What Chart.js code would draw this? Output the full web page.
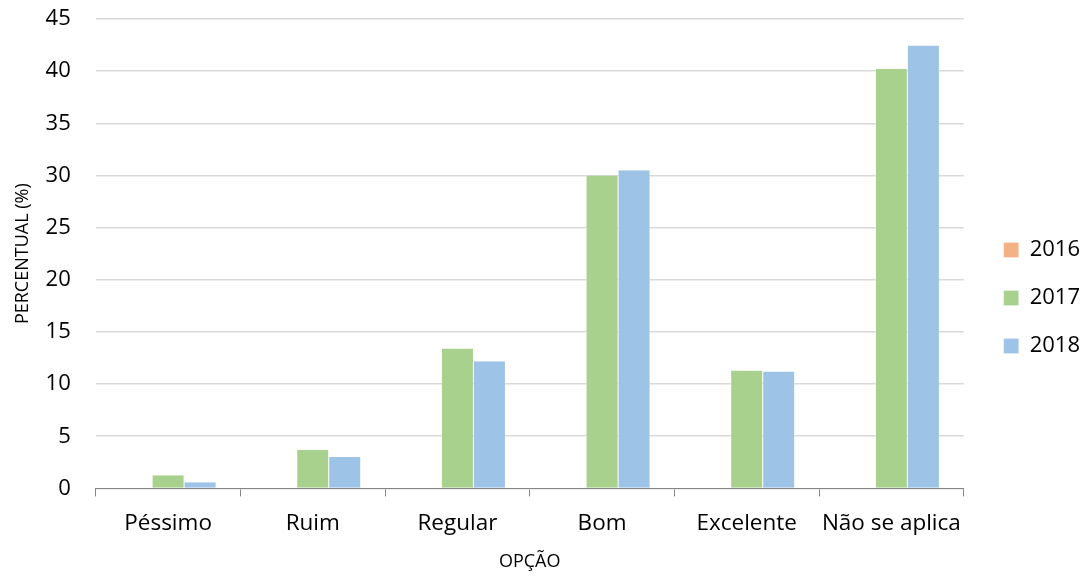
<!DOCTYPE html>
<html>
<head>
<meta charset="utf-8">
<script src="https://cdn.jsdelivr.net/npm/chart.js@4"></script>
<style>
  html, body { margin: 0; padding: 0; background: #fff; }
  #wrap { width: 1088px; height: 578px; }
</style>
</head>
<body>
<div id="wrap"><canvas id="grafico"></canvas></div>
<script>
const categorias = ['Péssimo', 'Ruim', 'Regular', 'Bom', 'Excelente', 'Não se aplica'];
const anos = ['2016', '2017', '2018'];
const valores2016 = [0, 0, 0, 0, 0, 0];
const valores2017 = [1.25, 3.7, 13.4, 30.0, 11.3, 40.2];
const valores2018 = [0.6, 3.0, 12.2, 30.5, 11.2, 42.45];
const cores = ['#F4B183', '#A9D18E', '#9DC3E6'];

const fonte = "'Open Sans', 'Noto Sans', sans-serif";
// deslocamento da legenda depois do layout
const desvioX = 14;
const desvioY = 2;

const ctx = document.getElementById('grafico').getContext('2d');

new Chart(ctx, {
    type: 'bar',
    data: {
        labels: categorias,
        datasets: [valores2016, valores2017, valores2018].map((d, i) => ({
            label: anos[i],
            data: d,
            backgroundColor: cores[i],
            borderColor: '#ffffff',
            borderWidth: { left: 0.5, right: 0.5, top: 0, bottom: 0 },
            categoryPercentage: 0.664,
            barPercentage: 1
        }))
    },
    options: {
        responsive: true,
        maintainAspectRatio: false,
        animation: false,
        layout: { padding: { top: 19, right: 12, left: 12, bottom: 5 } },
        plugins: {
            tooltip: { enabled: false },
            legend: {
                position: 'right',
                labels: {
                    color: '#000',
                    boxWidth: 15,
                    boxHeight: 15,
                    padding: 26,
                    font: { family: fonte, size: 22 }
                }
            }
        },
        scales: {
            x: {
                grid: {
                    offset: true,
                    drawOnChartArea: false,
                    tickLength: 8,
                    color: '#868686'
                },
                border: { color: '#868686', width: 1 },
                ticks: {
                    color: '#000',
                    padding: 14,
                    maxRotation: 0,
                    minRotation: 0,
                    autoSkip: false,
                    font: { family: fonte, size: 22.5 }
                },
                title: {
                    display: true,
                    text: 'OPÇÃO',
                    color: '#000',
                    padding: { top: 0, bottom: 0 },
                    font: { family: fonte, size: 18 }
                }
            },
            y: {
                min: 0,
                max: 45,
                ticks: {
                    stepSize: 5,
                    color: '#000',
                    padding: 0,
                    font: { family: fonte, size: 22 }
                },
                grid: {
                    color: '#D9D9D9',
                    lineWidth: 1.5,
                    tickLength: 25,
                    tickColor: 'rgba(0,0,0,0)'
                },
                border: { display: false },
                title: {
                    display: true,
                    text: 'PERCENTUAL (%)',
                    color: '#000',
                    padding: { top: 0, bottom: 12 },
                    font: { family: fonte, size: 18 }
                }
            }
        }
    },
    plugins: [{
        id: 'moverLegenda',
        afterLayout(chart) {
            const lg = chart.legend;
            lg.left += desvioX;
            lg.right += desvioX;
            lg.top += desvioY;
            lg.bottom += desvioY;
        }
    }]
});
</script>
</body>
</html>
